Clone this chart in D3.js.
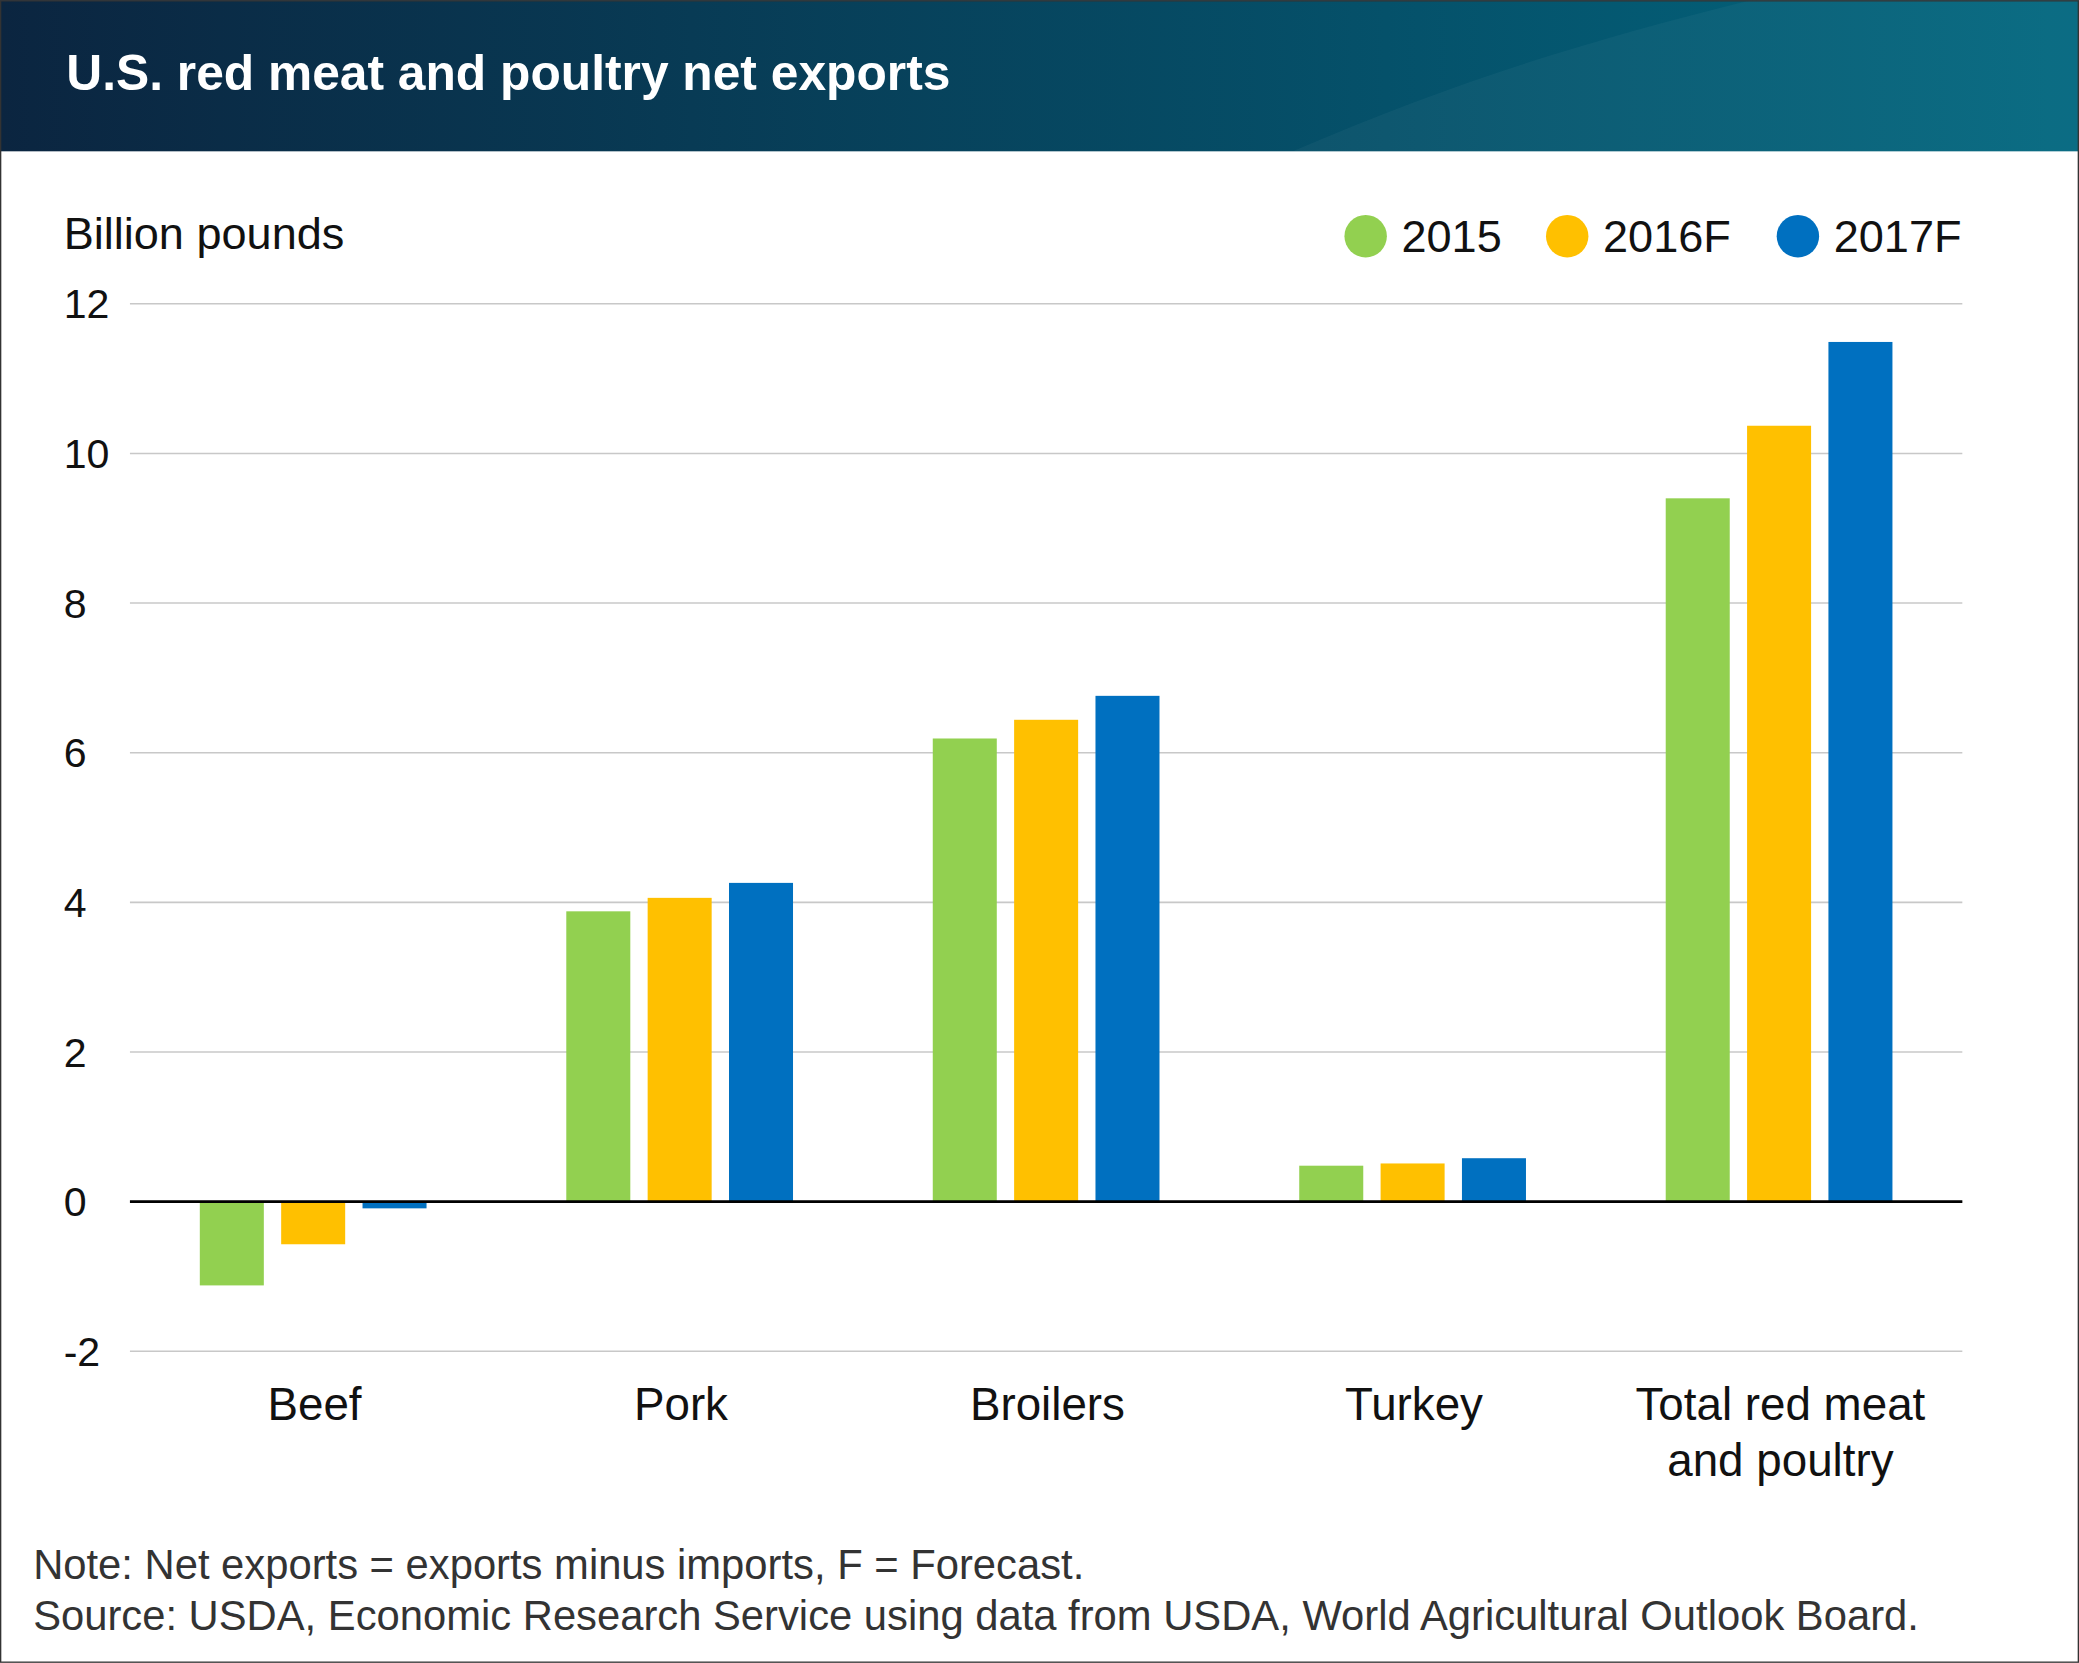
<!DOCTYPE html>
<html><head><meta charset="utf-8">
<script src="https://cdn.jsdelivr.net/npm/d3@7"></script>
<style>body{margin:0;background:#fff}text{font-family:"Liberation Sans",Arial,sans-serif}</style>
</head><body>
<svg id="chart" width="2079" height="1663" viewBox="0 0 1568 1254"></svg>
<script>
const categories = [["Beef"], ["Pork"], ["Broilers"], ["Turkey"], ["Total red meat", "and poultry"]];
const seriesNames = ["2015", "2016F", "2017F"];
const colors = ["#92d050", "#ffc000", "#0070c0"];
const v2015 = [-1.12, 3.88, 6.19, 0.48, 9.40];
const v2016 = [-0.57, 4.06, 6.44, 0.51, 10.37];
const v2017 = [-0.09, 4.26, 6.76, 0.58, 11.49];
const yTicks = [-2, 0, 2, 4, 6, 8, 10, 12];
const series = [v2015, v2016, v2017];

const svg = d3.select("#chart");
const defs = svg.append("defs");
let grad = defs.append("linearGradient").attr("id", "hdr");
grad.append("stop").attr("offset", "0").attr("stop-color", "#0b2540");
grad.append("stop").attr("offset", "1").attr("stop-color", "#02677f");
svg.append("rect").attr("width", 1568).attr("height", 114).attr("fill", "url(#hdr)");
svg.append("path").attr("d", "M975,114 C1100,60 1200,30 1320,0 L1568,0 L1568,114 Z").attr("fill", "#fff").attr("opacity", 0.04);
svg.append("text").attr("x", 50).attr("y", 68).attr("fill", "#fff").attr("font-size", 37.5).attr("font-weight", "bold").text("U.S. red meat and poultry net exports");
svg.append("rect").attr("x", 0.5).attr("y", 0.5).attr("width", 1567).attr("height", 1253).attr("fill", "none").attr("stroke", "#333");

const y = d3.scaleLinear().domain([-2, 12]).range([1019, 229]);
const x = d3.scaleBand().domain(d3.range(5)).range([98, 1480]);
// three bars 48 wide, 13 gap
const xs = d3.scaleBand().domain(d3.range(3)).range([-85.5, 85.5]).paddingInner(13 / 61);

const g = svg.append("g");
g.selectAll(".grid").data(yTicks).join("line")
  .attr("x1", 98).attr("x2", 1480).attr("y1", d => y(d)).attr("y2", d => y(d))
  .attr("stroke", "#c8c8c8").attr("stroke-width", 1.2);
g.selectAll(".yl").data(yTicks).join("text")
  .attr("x", 48).attr("y", d => y(d) + 11).attr("font-size", 31).attr("fill", "#111").text(d => d);

series.forEach((s, si) => {
  g.selectAll(".b" + si).data(s).join("rect")
    .attr("x", (d, i) => x(i) + x.bandwidth() / 2 + xs(si))
    .attr("width", xs.bandwidth())
    .attr("y", d => y(Math.max(0, d)))
    .attr("height", d => Math.abs(y(d) - y(0)))
    .attr("fill", colors[si]);
});
g.append("line").attr("x1", 98).attr("x2", 1480).attr("y1", y(0)).attr("y2", y(0)).attr("stroke", "#000").attr("stroke-width", 2);

categories.forEach((lines, i) => {
  lines.forEach((t, j) => {
    g.append("text").attr("x", x(i) + x.bandwidth() / 2 + 1).attr("y", 1071 + j * 42)
      .attr("text-anchor", "middle").attr("font-size", 34.5).attr("fill", "#111").text(t);
  });
});

svg.append("text").attr("x", 48).attr("y", 188).attr("font-size", 34).attr("fill", "#111").text("Billion pounds");
const legX = [1030, 1182, 1356];
seriesNames.forEach((n, i) => {
  svg.append("circle").attr("cx", legX[i]).attr("cy", 178).attr("r", 16).attr("fill", colors[i]);
  svg.append("text").attr("x", legX[i] + 27).attr("y", 190).attr("font-size", 34).attr("fill", "#111").text(n);
});
svg.append("text").attr("x", 25).attr("y", 1191).attr("font-size", 31.5).attr("fill", "#333").text("Note: Net exports = exports minus imports, F = Forecast.");
svg.append("text").attr("x", 25).attr("y", 1229).attr("font-size", 31.5).attr("fill", "#333").text("Source: USDA, Economic Research Service using data from USDA, World Agricultural Outlook Board.");
</script>
</body></html>
